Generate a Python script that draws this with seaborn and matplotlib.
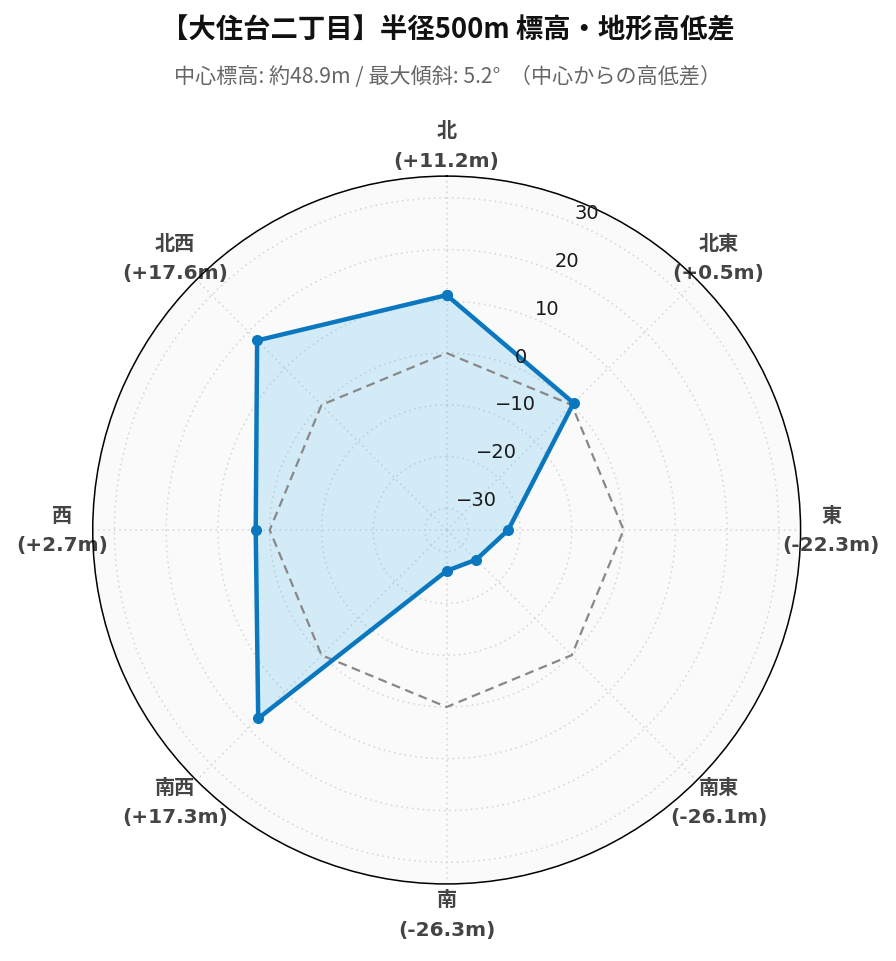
import numpy as np
import pandas as pd
import matplotlib
matplotlib.use("Agg")
import matplotlib.pyplot as plt
import matplotlib.transforms as mtransforms
import seaborn as sns

# --- data -------------------------------------------------------------
directions = ["北", "北東", "東", "南東", "南", "南西", "西", "北西"]
diffs = [11.2, 0.5, -22.3, -26.1, -26.3, 17.3, 2.7, 17.6]
r_ticks = [-30, -20, -10, 0, 10, 20, 30]
title = "【大住台二丁目】半径500m 標高・地形高低差"
subtitle = "中心標高: 約48.9m / 最大傾斜: 5.2°  （中心からの高低差）"

r_max = max(abs(v) for v in diffs) * 1.3

sns.set_theme(style="white")
plt.rcParams["font.family"] = ["DejaVu Sans", "Noto Sans CJK JP"]

theta = np.deg2rad(np.arange(len(directions)) * 360 / len(directions))
# close the loop at 2*pi so seaborn doesn't merge it with the first point
df = pd.DataFrame({
    "theta": np.append(theta, 2 * np.pi),
    "diff": diffs + diffs[:1],
    "zero": 0.0,
})

fig = plt.figure(figsize=(8.96, 9.62), dpi=100)
ax = fig.add_axes([0.1035, 0.080, 0.790, 0.736], projection="polar")
ax.set_theta_zero_location("N")
ax.set_theta_direction(-1)
ax.set_ylim(-r_max, r_max)
ax.set_facecolor("#fafafa")

# grid
ax.set_yticks(r_ticks)
ax.set_yticklabels([])
ax.set_xticks(theta)
ax.grid(True, color="#d4d4d4", linestyle=(0, (1, 2.5)), linewidth=1.1)
ax.spines["polar"].set_color("black")
ax.spines["polar"].set_linewidth(1.1)

# filled area
ax.fill(df["theta"], df["diff"], color="#5bc0eb", alpha=0.25, linewidth=0, zorder=2)

# zero reference
sns.lineplot(data=df, x="theta", y="zero", sort=False, estimator=None, ax=ax,
             color="#888888", linewidth=1.6, linestyle=(0, (4, 2.5)), zorder=3)

# main line
sns.lineplot(data=df, x="theta", y="diff", sort=False, estimator=None, ax=ax,
             color="#0a77bf", linewidth=3.2, marker="o", markersize=8,
             markeredgewidth=0, zorder=4)
ax.set_xlabel("")
ax.set_ylabel("")

# angular labels
labels = [f"{d}\n({v:+.1f}m)" for d, v in zip(directions, diffs)]
ax.set_xticklabels(labels, fontsize=14.5, fontweight="bold", color="#444444",
                   linespacing=1.7)
ax.tick_params(axis="x", pad=15, length=0)

# radial labels
rlab_tr = mtransforms.offset_copy(ax.transData, fig=fig, x=0.5, y=7.5, units="points")
for t in r_ticks:
    ax.text(np.deg2rad(22.5), t, f"{t}".replace("-", "\u2212"), transform=rlab_tr,
            ha="left", va="center", fontsize=14, color="#1a1a1a", zorder=5)

fig.text(0.5, 1 - 30 / 962, title, ha="center", va="center", fontsize=19.7,
         fontweight="bold", color="#111111", family=["Noto Sans CJK JP", "DejaVu Sans"])
fig.text(0.5, 1 - 77 / 962, subtitle, ha="center", va="center", fontsize=15.2,
         color="#666666", family=["Noto Sans CJK JP", "DejaVu Sans"])

fig.savefig("out.png", dpi=100)
